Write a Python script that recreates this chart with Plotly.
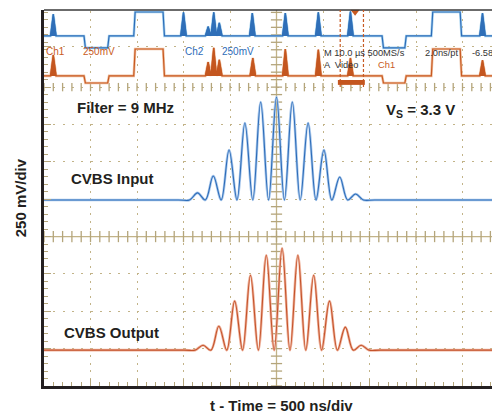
import plotly.graph_objects as go
import numpy as np

# ---------------- data ----------------
NS_PER_DIV = 500      # zoom window time base
MV_PER_DIV = 250      # vertical scale
US_PER_DIV = 10       # top (main time base) strip

# CVBS input burst (blue), zoom window
input_baseline_mv = 1245
input_peak_ns = [1650, 1820, 1990, 2160, 2330, 2500, 2670, 2840, 3010, 3180, 3350]
input_peak_mv = [1292, 1405, 1579, 1760, 1900, 1934, 1900, 1760, 1579, 1399, 1285]
input_trough_ns = [1565, 1735, 1905, 2075, 2245, 2415, 2585, 2755, 2925, 3095, 3265, 3435]

# CVBS output burst (red), zoom window
output_baseline_mv = 240
output_peak_ns = [1710, 1880, 2050, 2220, 2390, 2560, 2730, 2900, 3070, 3240, 3410]
output_peak_mv = [273, 400, 568, 741, 875, 922, 875, 741, 568, 394, 273]
output_trough_ns = [1625, 1795, 1965, 2135, 2305, 2475, 2645, 2815, 2985, 3155, 3325, 3495]

# top strip (10 us/div), levels in screen divisions
ch2_base = 9.37
ch2_pulse_start_us = [8.9, 19.6, 73.0, 83.6]
ch2_pulse_end_us = [13.7, 25.6, 77.6, 89.5]
ch2_pulse_level = [9.05, 10.01, 9.05, 10.01]
ch2_spike_us = [2.0, 30.0, 35.3, 36.5, 37.7, 44.8, 51.9, 59.0, 65.9, 94.3]
ch2_spike_top = [9.95, 10.0, 9.62, 10.0, 9.72, 9.98, 9.98, 10.0, 10.02, 9.98]

ch1_base = 8.30
ch1_pulse_start_us = [8.9, 19.6, 73.0, 83.6]
ch1_pulse_end_us = [13.7, 25.6, 77.6, 89.5]
ch1_pulse_level = [8.11, 9.02, 8.11, 9.02]
ch1_spike_us = [2.0, 35.3, 36.5, 37.7, 44.9, 51.9, 59.0, 65.9, 94.3]
ch1_spike_top = [8.86, 8.67, 9.05, 8.73, 8.78, 9.02, 9.0, 8.78, 8.72]

zoom_window_us = [63.7, 68.7]
zoom_bar_us = [63.2, 69.0]
trigger_us = 66.9

# ---------------- styling ----------------
OFF = 8                      # page body margin around the figure
W, H = 492, 407
ML, MR, MT, MB = 36, 0, 2, 28.5
PX_X, PX_Y = 46.5, 37.41
XMAX = (W - ML - MR) / PX_X
YMAX = (H - MT - MB) / PX_Y
TAN = '#c2b388'
TICK = '#b4a57b'
BLACK = '#231f20'
BLUE = '#2d6cb8'
BLUE_L = '#a9c8ec'
RED = '#c4532b'
RED_L = '#efb39d'
ORANGE = '#c85a22'
FONT = 'Liberation Sans, Arial, sans-serif'


def burst_xy(base, peak_t, peak_v, trough_t):
    xs = [0, trough_t[0] - 120]
    ys = [base, base]
    for i in range(len(peak_t)):
        xs += [trough_t[i], peak_t[i]]
        ys += [base, peak_v[i]]
    xs += [trough_t[-1], trough_t[-1] + 120, XMAX * NS_PER_DIV]
    ys += [base, base, base]
    return [x / NS_PER_DIV for x in xs], [y / MV_PER_DIV for y in ys]


def strip_xy(base, ps, pe, pl, st, stop, hw=0.6, edge=0.3):
    pts = [(0.0, base), (XMAX * US_PER_DIV, base)]
    for s, e, l in zip(ps, pe, pl):
        pts += [(s - edge, base), (s, l), (e, l), (e + edge, base)]
    for t, top in zip(st, stop):
        pts += [(t - hw, base), (t, top), (t + hw, base)]
    pts.sort(key=lambda p: p[0])
    return [p[0] / US_PER_DIV for p in pts], [p[1] for p in pts]


def spikes_xy(base, st, stop, hw=0.6):
    xs, ys = [], []
    for t, top in zip(st, stop):
        xs += [(t - hw) / US_PER_DIV, t / US_PER_DIV, (t + hw) / US_PER_DIV, None]
        ys += [base, top, base, None]
    return xs, ys


fig = go.Figure()

# center-line tick marks
minor_x = np.arange(0, XMAX, 0.2)
minor_y = np.arange(0, YMAX, 0.2)
fig.add_trace(go.Scatter(x=minor_x, y=[4] * len(minor_x), mode='markers', hoverinfo='skip',
                         marker=dict(symbol='line-ns', size=8, line=dict(color=TICK, width=1.3)),
                         showlegend=False))
fig.add_trace(go.Scatter(x=minor_x, y=[8] * len(minor_x), mode='markers', hoverinfo='skip',
                         marker=dict(symbol='line-ns', size=6, line=dict(color=TICK, width=1.3)),
                         showlegend=False))
fig.add_trace(go.Scatter(x=[5] * len(minor_y), y=minor_y, mode='markers', hoverinfo='skip',
                         marker=dict(symbol='line-ew', size=8, line=dict(color=TICK, width=1.3)),
                         showlegend=False))

# top strip traces
for base, ps, pe, pl, st, stop, col, halo, fillc in [
        (ch2_base, ch2_pulse_start_us, ch2_pulse_end_us, ch2_pulse_level, ch2_spike_us, ch2_spike_top,
         BLUE, '#a8d4f0', '#2f6fb8'),
        (ch1_base, ch1_pulse_start_us, ch1_pulse_end_us, ch1_pulse_level, ch1_spike_us, ch1_spike_top,
         ORANGE, '#f0c0a0', '#c4561f')]:
    sx, sy = strip_xy(base, ps, pe, pl, st, stop)
    fig.add_trace(go.Scatter(x=sx, y=sy, mode='lines', line=dict(color=halo, width=2.6),
                             hoverinfo='skip', showlegend=False))
    fig.add_trace(go.Scatter(x=sx, y=sy, mode='lines', line=dict(color=col, width=1.2),
                             hoverinfo='skip', showlegend=False))
    kx, ky = spikes_xy(base, st, stop)
    fig.add_trace(go.Scatter(x=kx, y=ky, mode='lines', fill='toself', fillcolor=fillc,
                             line=dict(color=fillc, width=1), hoverinfo='skip', showlegend=False))

# trigger marker
fig.add_trace(go.Scatter(x=[trigger_us / US_PER_DIV], y=[YMAX - 0.05], mode='markers', cliponaxis=False,
                         marker=dict(symbol='triangle-down', size=8, color=ORANGE),
                         hoverinfo='skip', showlegend=False))

# main traces
for base, pt, pv, tt, core, halo in [
        (input_baseline_mv, input_peak_ns, input_peak_mv, input_trough_ns, BLUE, BLUE_L),
        (output_baseline_mv, output_peak_ns, output_peak_mv, output_trough_ns, RED, RED_L)]:
    bx, by = burst_xy(base, pt, pv, tt)
    fig.add_trace(go.Scatter(x=bx, y=by, mode='lines', line=dict(color=halo, width=2.6, shape='spline', smoothing=1),
                             hoverinfo='skip', showlegend=False))
    fig.add_trace(go.Scatter(x=bx, y=by, mode='lines', line=dict(color=core, width=1.1, shape='spline', smoothing=1),
                             hoverinfo='skip', showlegend=False))

shapes = [
    dict(type='line', xref='paper', yref='paper', x0=0, x1=1, y0=1, y1=1, line=dict(color='#3a3a3a', width=1.6)),
    dict(type='line', xref='x', yref='paper', x0=5, x1=5, y0=0, y1=1, line=dict(color=TAN, width=1.3), layer='below'),
    dict(type='line', xref='paper', yref='y', x0=0, x1=1, y0=4, y1=4, line=dict(color=TAN, width=1.3), layer='below'),
]
for xw in zoom_window_us:
    shapes.append(dict(type='line', xref='x', yref='y', x0=xw / US_PER_DIV, x1=xw / US_PER_DIV, y0=8, y1=YMAX,
                       line=dict(color=ORANGE, width=1.2, dash='3px,2px')))
shapes.append(dict(type='rect', xref='x', yref='y', x0=zoom_bar_us[0] / US_PER_DIV, x1=zoom_bar_us[1] / US_PER_DIV,
                   y0=8.06, y1=8.19, fillcolor='#c4561f', line=dict(width=0)))

ann = []
def label(text, x, y, size=15, color=BLACK, xanchor='center', bold=True, angle=0, font=FONT):
    ann.append(dict(text=(f'<b>{text}</b>' if bold else text), x=x, y=y, xref='paper', yref='paper',
                    showarrow=False, xanchor=xanchor, yanchor='middle', textangle=angle,
                    font=dict(family=font, size=size, color=color)))

# helpers converting window pixel positions to paper fractions
def px(p):
    return (p - OFF - ML) / (W - ML - MR)

def py(p):
    return (OFF + H - MB - p) / (H - MT - MB)

label('Filter = 9 MHz', px(125.5), py(108))
label('V<sub>S</sub> = 3.3 V', px(420), py(111))
label('CVBS Input', px(112.5), py(179))
label('CVBS Output', px(111.4), py(332.7))
label('250 mV/div', px(20), py(198.5), angle=-90)
label('t - Time = 500 ns/div', px(281), py(406))

label('Ch1', px(44), py(52), size=10, color=ORANGE, xanchor='left', bold=False)
label('250mV', px(81), py(52), size=10, color=ORANGE, xanchor='left', bold=False)
label('Ch2', px(183), py(52), size=10, color=BLUE, xanchor='left', bold=False)
label('250mV', px(220), py(52), size=10, color=BLUE, xanchor='left', bold=False)
label('M 10.0 µs 500MS/s', px(322), py(53), size=9.3, color='#333333', xanchor='left', bold=False)
label('2.0ns/pt', px(423), py(53), size=9.3, color='#333333', xanchor='left', bold=False)
label('-6.58µ', px(470), py(53), size=9.3, color='#333333', xanchor='left', bold=False)
label('A  Video', px(322), py(65), size=9.3, color='#333333', xanchor='left', bold=False)
label('Ch1', px(376), py(65), size=9.3, color=ORANGE, xanchor='left', bold=False)

fig.update_layout(
    width=W, height=H, autosize=False,
    margin=dict(l=ML, r=MR, t=MT, b=MB, pad=0),
    paper_bgcolor='white', plot_bgcolor='white',
    showlegend=False,
    shapes=shapes,
    annotations=ann,
    xaxis=dict(range=[0, XMAX], showline=True, linecolor=BLACK, linewidth=3,
               ticks='inside', tickmode='linear', tick0=0, dtick=1, ticklen=7, tickwidth=1.3, tickcolor=TICK,
               showticklabels=False, showgrid=True, gridcolor=TAN, gridwidth=1.4,
               griddash='0px,1.4px,2px,4.08px', zeroline=False, fixedrange=True,
               minor=dict(ticks='inside', dtick=0.2, tick0=0, ticklen=4, tickwidth=1.2, tickcolor=TICK, showgrid=False)),
    yaxis=dict(range=[0, YMAX], showline=True, linecolor=BLACK, linewidth=3,
               ticks='inside', tickmode='array', tickvals=[0, 1, 2, 3, 4, 5, 6, 7, 8, 9.075],
               ticklen=7, tickwidth=1.3, tickcolor=TICK,
               showticklabels=False, showgrid=True, gridcolor=TAN, gridwidth=1.4,
               griddash='2px,7.3px', zeroline=False, fixedrange=True,
               minor=dict(ticks='inside', tickmode='linear', dtick=0.2, tick0=0, ticklen=4, tickwidth=1.2,
                          tickcolor=TICK, showgrid=False)),
)

fig.write_html('out.html', config={'responsive': False})
